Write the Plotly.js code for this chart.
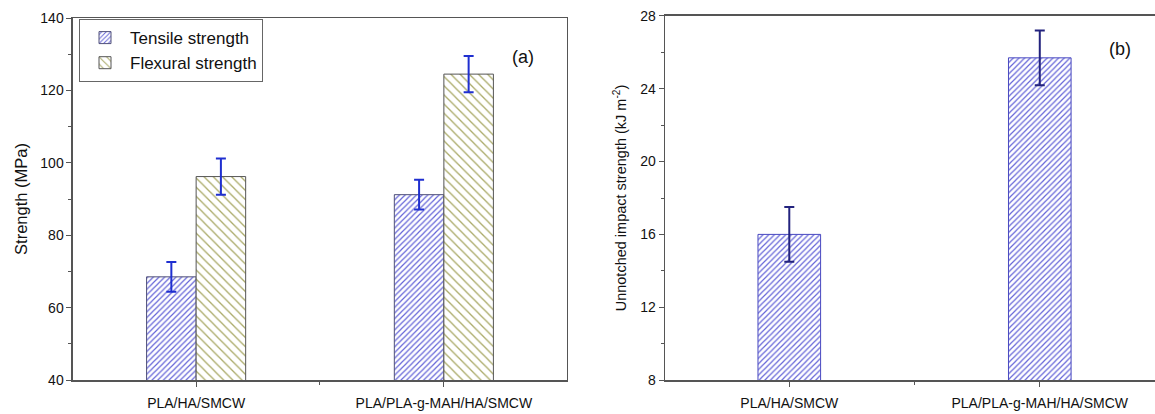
<!DOCTYPE html>
<html><head><meta charset="utf-8">
<script src="https://cdn.plot.ly/plotly-3.0.1.min.js"></script>
<style>html,body{margin:0;padding:0;overflow:hidden;background:#fff}</style>
</head><body><div id="chart" style="width:1155px;height:414px"></div>
<script>
const categories = ["PLA/HA/SMCW", "PLA/PLA-g-MAH/HA/SMCW"];
const tensile = [68.5, 91.2];
const tensileErr = [4.1, 4.1];
const flexural = [96.2, 124.5];
const flexuralErr = [5.0, 5.0];
const impact = [16.0, 25.7];
const impactErr = [1.5, 1.5];
const leftTicks = [40, 60, 80, 100, 120, 140];
const rightTicks = [8, 12, 16, 20, 24, 28];

const xs = categories.map((_, i) => i);
const fontFam = 'Liberation Sans, Arial, sans-serif';
const axisCol = '#555';

const traces = [
  {type:'bar', name:'Tensile strength', x:xs, y:tensile, xaxis:'x', yaxis:'y', offset:-0.2, width:0.2,
   marker:{color:'white', line:{color:'#50507a', width:1}, pattern:{shape:'/', fgcolor:'#6565d8', bgcolor:'white', size:4, solidity:0.3}},
   error_y:{type:'data', array:tensileErr, visible:true, color:'#1f2fd0', thickness:2, width:5}},
  {type:'bar', name:'Flexural strength', x:xs, y:flexural, xaxis:'x', yaxis:'y', offset:0, width:0.2,
   marker:{color:'white', line:{color:'#555', width:1}, pattern:{shape:'\\', fgcolor:'#aaaa68', bgcolor:'white', size:6.5, solidity:0.2}},
   error_y:{type:'data', array:flexuralErr, visible:true, color:'#1f2fd0', thickness:2, width:5}},
  {type:'bar', name:'Impact', showlegend:false, x:xs, y:impact, xaxis:'x2', yaxis:'y2', width:0.25,
   marker:{color:'white', line:{color:'#4848c0', width:1}, pattern:{shape:'/', fgcolor:'#6565d8', bgcolor:'white', size:4, solidity:0.3}},
   error_y:{type:'data', array:impactErr, visible:true, color:'#23237e', thickness:2, width:5}}
];

const xBase = {type:'linear', tickvals:xs, ticktext:categories, showgrid:false, zeroline:false,
  showline:true, linecolor:axisCol, linewidth:1.5, mirror:true, ticks:'outside', ticklen:5, tickcolor:axisCol,
  ticklabelstandoff:5,
  tickfont:{family:fontFam, size:14, color:'#111'},
  minor:{tickvals:[0.5], ticks:'outside', ticklen:3, tickcolor:axisCol}};
const yBase = {showgrid:false, zeroline:false, showline:true, linecolor:axisCol, linewidth:1.5, mirror:true,
  ticks:'outside', ticklen:5, tickcolor:axisCol, tickfont:{family:fontFam, size:14, color:'#111'}};

const layout = {
  width:1155, height:414, margin:{l:0, r:0, t:0, b:0}, paper_bgcolor:'white', plot_bgcolor:'white',
  showlegend:true, barmode:'overlay',
  font:{family:fontFam, color:'#111'},
  xaxis: Object.assign({}, xBase, {domain:[0.0632, 0.4909], range:[-0.497, 1.497], anchor:'y'}),
  yaxis: Object.assign({}, yBase, {domain:[0.0821, 0.9565], range:[40, 140], tickvals:leftTicks, anchor:'x',
    minor:{dtick:10, ticks:'outside', ticklen:3, tickcolor:axisCol},
    title:{text:'Strength (MPa)', font:{family:fontFam, size:16.5, color:'#111'}, standoff:8}}),
  xaxis2: Object.assign({}, xBase, {domain:[0.5758, 1.0], range:[-0.496, 1.46], anchor:'y2'}),
  yaxis2: Object.assign({}, yBase, {domain:[0.0821, 0.9614], range:[8, 28], tickvals:rightTicks, anchor:'x2',
    minor:{dtick:2, ticks:'outside', ticklen:3, tickcolor:axisCol},
    title:{text:'Unnotched impact strength (kJ m<sup>-2</sup>)', font:{family:fontFam, size:14.5, color:'#111'}, standoff:10}}),
  legend:{x:0.0684, y:0.954, xanchor:'left', yanchor:'top', bordercolor:'#666', borderwidth:1, bgcolor:'white',
    font:{family:fontFam, size:17, color:'#111'}, itemwidth:40, tracegroupgap:0},
  annotations:[
    {text:'(a)', xref:'paper', yref:'paper', x:523/1155, y:1-45/414, showarrow:false, font:{family:fontFam, size:18, color:'#111'}},
    {text:'(b)', xref:'paper', yref:'paper', x:1133/1155, y:1-37/414, showarrow:false, font:{family:fontFam, size:18, color:'#111'}}
  ]
};
Plotly.newPlot('chart', traces, layout, {displayModeBar:false, staticPlot:true});
</script></body></html>
